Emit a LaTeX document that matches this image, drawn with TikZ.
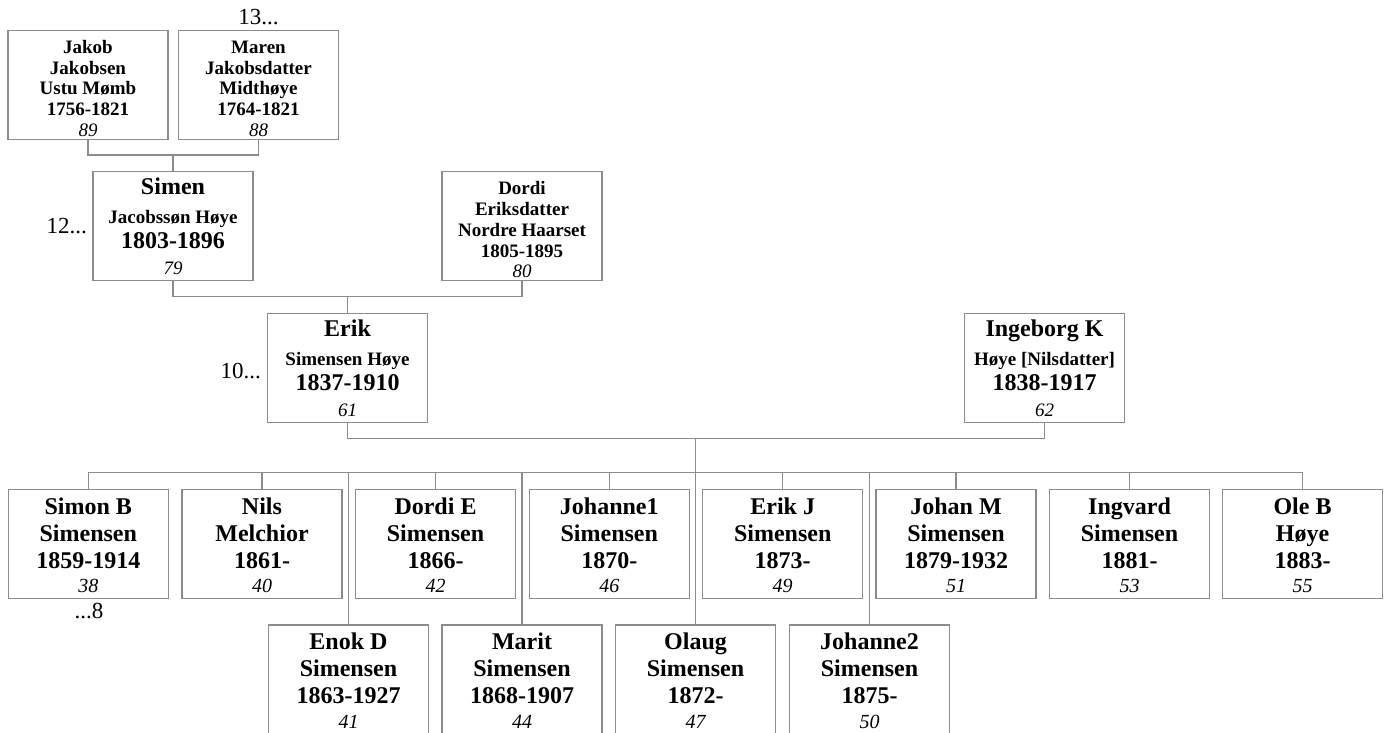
\documentclass[tikz,border=0pt]{standalone}
\usepackage{fontspec}
\setmainfont{Liberation Serif}
\definecolor{lg}{RGB}{140,140,140}
\newcommand\FTs{\fontsize{19}{20.8}\selectfont\bfseries}
\newcommand\FTb{\fontsize{24}{27}\selectfont\bfseries}
\newcommand\FTn{\fontsize{19}{20.8}\selectfont\mdseries\itshape}
\newcommand\FTc{\fontsize{20}{24}\selectfont\mdseries\itshape}
\newcommand\UpA{\rule{0pt}{20pt}}
\newcommand\UpC{\rule{0pt}{19pt}}
\tikzset{
  pbox/.style={draw=lg, line width=1.3pt, minimum width=160pt, minimum height=109pt, inner sep=0pt, align=center},
  pA/.style={pbox, font=\fontsize{19}{20.8}\selectfont},
  pB/.style={pbox, font=\fontsize{24}{25.5}\selectfont},
  pC/.style={pbox, font=\fontsize{24}{27}\selectfont},
  conn/.style={draw=lg, line width=1.3pt},
  lbl/.style={inner sep=0pt, anchor=base, font=\fontsize{23}{26}\selectfont}
}
\begin{document}
\begin{tikzpicture}[x=1pt,y=-1pt]
\useasboundingbox (0,0) rectangle (1386,733);
% grandparents
\node[pA] (jakob) at (88,85) {\FTs\UpA Jakob\\\FTs Jakobsen\\\FTs Ustu Mømb\\\FTs 1756-1821\\\FTn 89};
\node[pA] (maren) at (258.5,85) {\FTs\UpA Maren\\\FTs Jakobsdatter\\\FTs Midthøye\\\FTs 1764-1821\\\FTn 88};
% parents of Erik
\node[pB] (simen) at (173,226) {\FTb Simen\\[3.2pt]\FTs Jacobssøn Høye\\\FTb 1803-1896\\\FTn 79};
\node[pA] (dordi) at (522,226.3) {\FTs\UpA Dordi\\\FTs Eriksdatter\\\FTs Nordre Haarset\\\FTs 1805-1895\\\FTn 80};
% parents
\node[pB] (erik) at (347.5,368) {\FTb Erik\\[3.2pt]\FTs Simensen Høye\\\FTb 1837-1910\\\FTn 61};
\node[pB] (ingeborg) at (1044.5,368) {\FTb Ingeborg K\\[3.2pt]\FTs Høye [Nilsdatter]\\\FTb 1838-1917\\\FTn 62};
% children, first row
\node[pC] (c1) at (88.3,543.8) {\FTb\UpC Simon B\\\FTb Simensen\\\FTb 1859-1914\\[-2.6pt]\FTc 38};
\node[pC] (c2) at (262,543.8) {\FTb\UpC Nils\\\FTb Melchior\\\FTb 1861-\\[-2.6pt]\FTc 40};
\node[pC] (c3) at (435.5,543.8) {\FTb\UpC Dordi E\\\FTb Simensen\\\FTb 1866-\\[-2.6pt]\FTc 42};
\node[pC] (c4) at (609.3,543.8) {\FTb\UpC Johanne1\\\FTb Simensen\\\FTb 1870-\\[-2.6pt]\FTc 46};
\node[pC] (c5) at (782.7,543.8) {\FTb\UpC Erik J\\\FTb Simensen\\\FTb 1873-\\[-2.6pt]\FTc 49};
\node[pC] (c6) at (956,543.8) {\FTb\UpC Johan M\\\FTb Simensen\\\FTb 1879-1932\\[-2.6pt]\FTc 51};
\node[pC] (c7) at (1129.5,543.8) {\FTb\UpC Ingvard\\\FTb Simensen\\\FTb 1881-\\[-2.6pt]\FTc 53};
\node[pC] (c8) at (1302.5,543.8) {\FTb\UpC Ole B\\\FTb Høye\\\FTb 1883-\\[-2.6pt]\FTc 55};
% children, second row
\node[pC] (d1) at (348.5,679.5) {\FTb\UpC Enok D\\\FTb Simensen\\\FTb 1863-1927\\[-2.6pt]\FTc 41};
\node[pC] (d2) at (522,679.5) {\FTb\UpC Marit\\\FTb Simensen\\\FTb 1868-1907\\[-2.6pt]\FTc 44};
\node[pC] (d3) at (695.5,679.5) {\FTb\UpC Olaug\\\FTb Simensen\\\FTb 1872-\\[-2.6pt]\FTc 47};
\node[pC] (d4) at (869.5,679.5) {\FTb\UpC Johanne2\\\FTb Simensen\\\FTb 1875-\\[-2.6pt]\FTc 50};
% generation labels
\node[lbl] (g13) at (258.5,25) {13...};
\node[lbl, anchor=base east] (g12) at (87,233.3) {12...};
\node[lbl, anchor=base east] (g10) at (261,378.3) {10...};
\node[lbl] (g8) at (89,618) {...8};
% connectors
\coordinate (j1) at (173,155);
\draw[conn] (jakob.south) |- (j1) -| (maren.south);
\draw[conn] (j1) -- (simen.north);
\coordinate (s1) at (347.5,296.7);
\draw[conn] (simen.south) |- (s1) -| (dordi.south);
\draw[conn] (s1) -- (erik.north);
\coordinate (e1) at (695.5,438.5);
\draw[conn] (erik.south) |- (e1) -| (ingeborg.south);
\coordinate (bar) at (695.5,472.5);
\draw[conn] (e1) -- (bar);
\draw[conn] (c1.north) |- (bar) -| (c8.north);
\foreach \n in {c2,c3,c4,c5,c6,c7,d1,d2,d3,d4}
  \draw[conn] (\n.north) -- (\n.north |- bar);
\end{tikzpicture}
\end{document}
